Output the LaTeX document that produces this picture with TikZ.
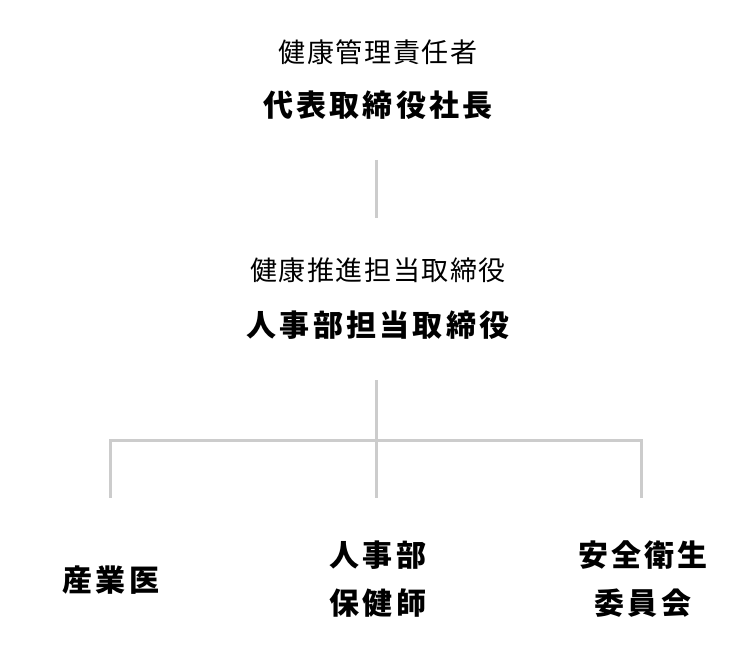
\documentclass[tikz,border=0pt]{standalone}
\usepackage{fontspec}
\newfontfamily\jpfont{Noto Sans CJK JP}[LetterSpace=6]
\newfontfamily\jpbold{Noto Sans CJK JP}[LetterSpace=11]
\definecolor{linegray}{HTML}{CCCCCC}
\tikzset{
  role/.style={font=\jpfont\fontsize{27}{30}\selectfont, inner sep=0pt},
  person/.style={font=\jpbold\bfseries\fontsize{30}{48}\selectfont, inner sep=0pt, align=center},
  link/.style={draw=linegray, line width=3pt},
}
\begin{document}
\begin{tikzpicture}[x=1pt, y=-1pt]
  \useasboundingbox (0, 0) rectangle (752, 660);
  \coordinate (c1) at (378, 52);
  \coordinate (c2) at (378, 105);
  \coordinate (c3) at (378, 270);
  \coordinate (c4) at (378, 325);
  \node[role] (r1) at (c1) {健康管理責任者};
  \node[person] (ceo) at (c2) {代表取締役社長};
  \node[role] (r2) at (c3) {健康推進担当取締役};
  \node[person] (hrdir) at (c4) {人事部担当取締役};
  \node[person] (doctor) at (111, 580) {産業医};
  \node[person] (nurse) at (378, 579) {人事部\\保健師};
  \node[person] (committee) at (643, 579) {安全衛生\\委員会};
  % tree lines
  \coordinate (bar) at (376, 440);
  \coordinate (drop) at (376, 498);
  \draw[link] ([xshift=-2pt, yshift=-55pt]ceo.center) -- ([xshift=-2pt, yshift=52pt]r2.center);
  \draw[link] ([xshift=-2pt, yshift=-55pt]hrdir.center) -- (bar);
  \draw[link, line cap=rect] ([xshift=-1pt]bar -| doctor) -- ([xshift=-2pt]bar -| committee);
  \draw[link] ([xshift=-1pt]bar -| doctor) -- ([xshift=-1pt]drop -| doctor);
  \draw[link] (bar) -- (drop);
  \draw[link] ([xshift=-2pt]bar -| committee) -- ([xshift=-2pt]drop -| committee);
\end{tikzpicture}
\end{document}
